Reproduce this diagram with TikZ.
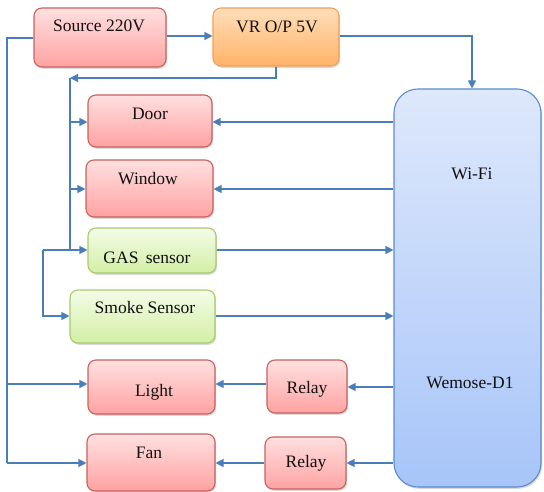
\documentclass[tikz,border=0pt]{standalone}
\usepackage{fontspec}
\setmainfont{Liberation Serif}
\usetikzlibrary{arrows.meta,shadows,shadings}

\definecolor{wireblue}{HTML}{4A7EBB}
\definecolor{redtop}{HTML}{FFE0E0}
\definecolor{redbot}{HTML}{FFA2A2}
\definecolor{redline}{HTML}{C9615E}
\definecolor{orgtop}{HTML}{FFDEBA}
\definecolor{orgbot}{HTML}{FFB368}
\definecolor{orgline}{HTML}{F2A055}
\definecolor{grntop}{HTML}{F4FCE8}
\definecolor{grnbot}{HTML}{D2EFA4}
\definecolor{grnline}{HTML}{A9C96F}
\definecolor{blutop}{HTML}{DEE8FB}
\definecolor{blubot}{HTML}{A7C5F9}
\definecolor{bluline}{HTML}{5B8AD0}
\definecolor{ink}{HTML}{101010}

% block with corners (x1,y1) and (x2,y2), no text inside
\newcommand\blockat[6]{%
  \node[#2,minimum width={(#5-#3)*1bp},minimum height={(#6-#4)*1bp}]
    (#1) at ({(#3+#5)/2},{(#4+#6)/2}) {};}

\begin{document}
\begin{tikzpicture}[x=1bp,y=-1bp,
  block/.style={draw,rectangle,rounded corners=8bp,line width=1.1bp,inner sep=0pt,
    drop shadow={shadow xshift=1.2bp,shadow yshift=-1.8bp,opacity=0.3}},
  redblock/.style={block,draw=redline,top color=redtop,bottom color=redbot},
  orgblock/.style={block,draw=orgline,top color=orgtop,bottom color=orgbot},
  grnblock/.style={block,draw=grnline,top color=grntop,bottom color=grnbot},
  mcublock/.style={block,rounded corners=24bp,draw=bluline,top color=blutop,bottom color=blubot},
  lbl/.style={anchor=base,inner sep=0pt,text=ink,font=\rmfamily\fontsize{17.5bp}{20bp}\selectfont},
  wire/.style={draw=wireblue,line width=1.2bp},
  arr/.style={wire,-{Triangle[length=8bp,width=8bp]}}]

\useasboundingbox (0,0) rectangle (544,492);

% blocks
\blockat{src}{redblock}{34}{8}{166}{67}
\blockat{vr}{orgblock}{213}{8}{339}{66}
\blockat{door}{redblock}{88}{95}{212}{147}
\blockat{window}{redblock}{86}{160}{213}{217}
\blockat{gas}{grnblock}{88}{228}{216}{273}
\blockat{smoke}{grnblock}{70}{290}{215}{343}
\blockat{light}{redblock}{88}{360}{215}{414}
\blockat{relayA}{redblock}{267}{360}{347}{413}
\blockat{fan}{redblock}{87}{434}{215}{491}
\blockat{relayB}{redblock}{265}{437}{346}{489}
\blockat{wemos}{mcublock}{394}{89}{541}{487}

% labels
\node[lbl] (src-t) at (99,32) {Source 220V};
\node[lbl] (vr-t) at (277,33) {VR O/P 5V};
\node[lbl] (door-t) at (150,120) {Door};
\node[lbl] (window-t) at (148,185) {Window};
\node[lbl] (gas-t) at (147,263) {GAS\, sensor};
\node[lbl] (smoke-t) at (145,313) {Smoke Sensor};
\node[lbl] (light-t) at (154,396) {Light};
\node[lbl] (relayA-t) at (307,393) {Relay};
\node[lbl] (fan-t) at (149,458) {Fan};
\node[lbl] (relayB-t) at (306,467) {Relay};
\node[lbl] (wifi-t) at (472,180) {Wi-Fi};
\node[lbl] (wemos-t) at (470,388) {Wemose-D1};

% row and column references
\coordinate (y36) at (0,36);
\coordinate (y122) at (0,122);
\coordinate (y189) at (0,189);
\coordinate (y250) at (0,250);
\coordinate (y316) at (0,316);
\coordinate (y384) at (0,384);
\coordinate (y387) at (0,387);
\coordinate (y463) at (0,463);
\coordinate (x472) at (472,0);
\coordinate (busA) at (70,78);
\coordinate (busB) at (43,250);
\coordinate (busC) at (7,38);

% supply path
\draw[arr] (src.east |- y36) -- (vr.west |- y36);
\draw[arr] (vr.east |- y36) -| (wemos.north -| x472);
\draw[arr] (vr.south) |- (busA);
\draw[wire] (busA) -- (busA |- y250);
\draw[arr] (busA |- y122) -- (door.west |- y122);
\draw[arr] (busA |- y189) -- (window.west |- y189);
\draw[arr] (busB) -- (gas.west |- busB);
\draw[arr] (busB) |- (smoke.west |- y316);
\draw[wire] (src.west |- busC) -- (busC) -- (busC |- y463);
\draw[arr] (busC |- y384) -- (light.west |- y384);
\draw[arr] (busC |- y463) -- (fan.west |- y463);

% controller links
\draw[arr] (wemos.west |- y122) -- (door.east |- y122);
\draw[arr] (wemos.west |- y189) -- (window.east |- y189);
\draw[arr] (gas.east |- y250) -- (wemos.west |- y250);
\draw[arr] (smoke.east |- y316) -- (wemos.west |- y316);
\draw[arr] (wemos.west |- y387) -- (relayA.east |- y387);
\draw[arr] (relayA.west |- y384) -- (light.east |- y384);
\draw[arr] (wemos.west |- y463) -- (relayB.east |- y463);
\draw[arr] (relayB.west |- y463) -- (fan.east |- y463);
\end{tikzpicture}
\end{document}
